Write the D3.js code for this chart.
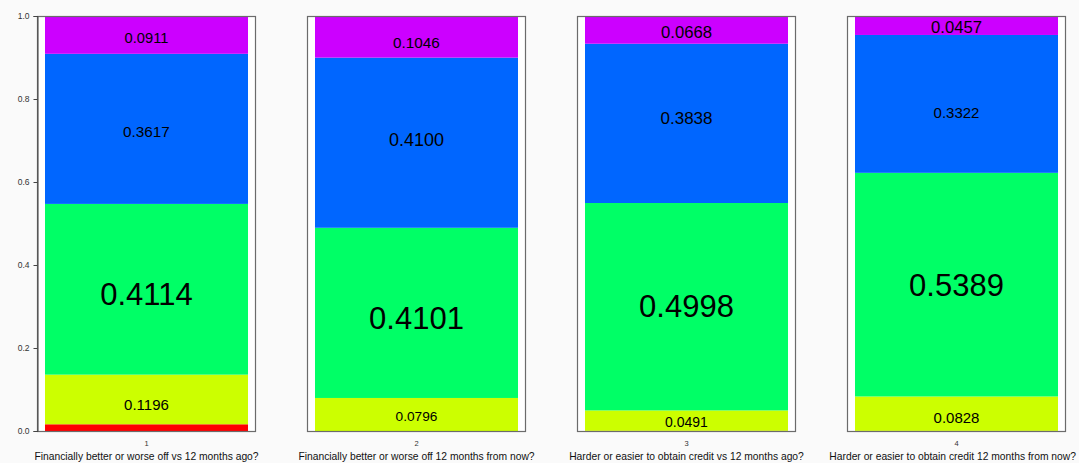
<!DOCTYPE html>
<html><head><meta charset="utf-8">
<script src="https://cdn.jsdelivr.net/npm/d3@7"></script>
<style>body{margin:0;background:#fafafa;}svg{display:block;font-family:"Liberation Sans",Arial,sans-serif;}</style>
</head><body>
<svg id="c" width="1079" height="463"></svg>
<script>
const questions = ["Financially better or worse off vs 12 months ago?",
  "Financially better or worse off 12 months from now?",
  "Harder or easier to obtain credit vs 12 months ago?",
  "Harder or easier to obtain credit 12 months from now?"];
const panelTicks = ["1","2","3","4"];
// stacked from the bottom: red, yellow, green, blue, purple
const seriesRed    = [0.0162, 0.0000, 0.0005, 0.0004];
const seriesYellow = [0.1196, 0.0796, 0.0491, 0.0828];
const seriesGreen  = [0.4114, 0.4101, 0.4998, 0.5389];
const seriesBlue   = [0.3617, 0.4100, 0.3838, 0.3322];
const seriesPurple = [0.0911, 0.1046, 0.0668, 0.0457];
const yTicks = [0, 0.2, 0.4, 0.6, 0.8, 1.0];

const colors = ["#ff0000","#ccff00","#00ff66","#0066ff","#cc00ff"];
const series = [seriesRed, seriesYellow, seriesGreen, seriesBlue, seriesPurple];
// label styling per panel, per series (red unlabeled)
const labelSizes = [
  [0,15,31,15.3,14.7],
  [0,13.7,31,18,15.3],
  [0,14,31,17,16.7],
  [0,15,31,15,16.7]
];
const labelShift = [
  [0,4,4,2,2],
  [0,1,5,-4,5],
  [0,0,-1,-6,2],
  [0,3,0,8,1]
];

const svg = d3.select("#c");
const boxW = 219, plotTop = 16, plotBottom = 431, inset = 8;
const px = d3.scaleBand().domain(panelTicks).range([37, 37 + 270*4]).paddingInner(0).paddingOuter(0);
const y = d3.scaleLinear().domain([0,1]).range([plotBottom, plotTop]).clamp(true);

panelTicks.forEach((p, i) => {
  const x0 = px(p);
  const g = svg.append("g");
  g.append("rect").attr("x", x0).attr("y", plotTop).attr("width", boxW).attr("height", plotBottom-plotTop)
    .attr("fill", "#fff");
  let cum = 0;
  series.forEach((s, k) => {
    const v = s[i];
    const y0 = y(cum), y1 = y(cum + v);
    g.append("rect").attr("x", x0+inset).attr("width", boxW-2*inset)
      .attr("y", y1).attr("height", Math.max(0, y0-y1)).attr("fill", colors[k]);
    if (k > 0 && labelSizes[i][k] > 0) {
      g.append("text").attr("x", x0 + boxW/2).attr("y", (y0+y1)/2 + 1 + labelShift[i][k])
        .attr("text-anchor","middle").attr("dominant-baseline","central")
        .attr("font-size", labelSizes[i][k]).attr("fill","#000")
        .text(v.toFixed(4));
    }
    cum += v;
  });
  g.append("rect").attr("x", x0+0.5).attr("y", plotTop+0.5).attr("width", boxW-1).attr("height", plotBottom-plotTop)
    .attr("fill", "none").attr("stroke", "#6b6b6b").attr("stroke-width", 1.2);
  g.append("text").attr("x", x0 + boxW/2).attr("y", 446).attr("text-anchor","middle")
    .attr("font-size", 7.5).attr("fill","#333").text(p);
  g.append("text").attr("x", Math.min(x0 + boxW/2, 1077 - 0)).attr("y", 460)
    .attr("text-anchor", i === 3 ? "end" : "middle")
    .attr("x", i === 3 ? 1076 : x0 + boxW/2)
    .attr("font-size", 10.3).attr("fill","#111").text(questions[i]);
});

const axis = d3.axisLeft(y).tickValues(yTicks).tickFormat(d3.format(".1f")).tickSize(4).tickPadding(4);
const ag = svg.append("g").attr("transform", "translate(37.5,0)").call(axis);
ag.select(".domain").attr("stroke","#444");
ag.selectAll(".tick line").attr("stroke","#444");
ag.selectAll(".tick text").attr("font-size", 8.5).attr("fill","#333").attr("font-family","Liberation Sans, Arial, sans-serif");
</script>
</body></html>
